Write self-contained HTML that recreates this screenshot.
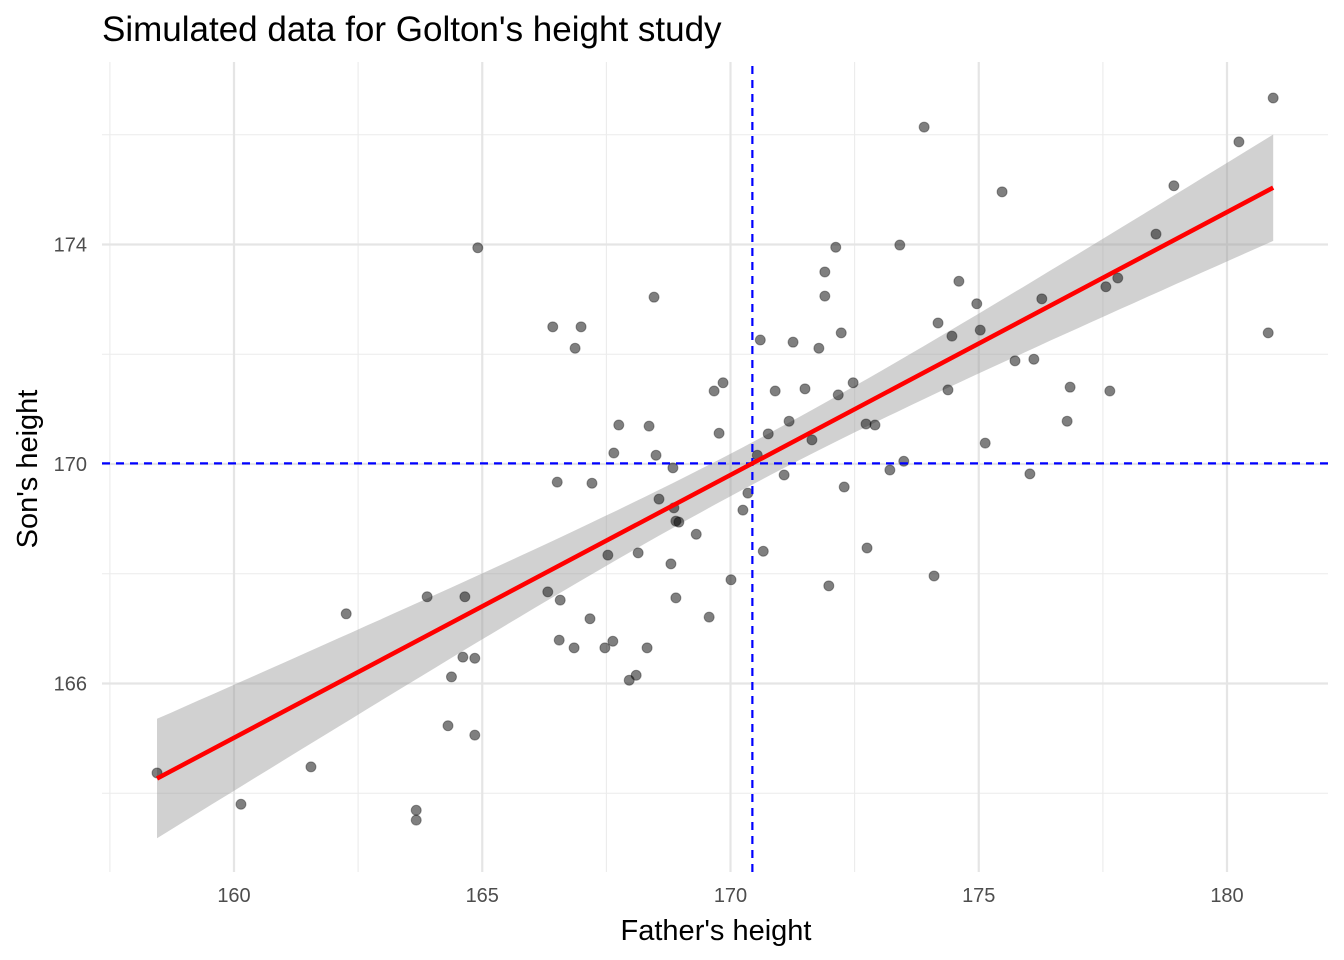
<!DOCTYPE html>
<html><head><meta charset="utf-8">
<style>
html,body{margin:0;padding:0;background:#fff;}
svg{display:block;font-family:"Liberation Sans",Arial,sans-serif;}
</style></head>
<body>
<svg id="chart" width="1344" height="960" viewBox="0 0 1344 960">
<text x="102" y="41" font-size="35" fill="#000">Simulated data for Golton's height study</text>
<g id="grid"></g>
<g id="band"></g>
<g id="points"></g>
<g id="guides"></g>
<g id="fit"></g>
<g id="ticks"></g>
<text x="716" y="940" font-size="29" text-anchor="middle" fill="#000">Father's height</text>
<text transform="translate(37,469) rotate(-90)" font-size="29" text-anchor="middle" fill="#000">Son's height</text>
</svg>
<script>
const fatherHeights=[158.45,160.14,161.55,162.26,163.67,163.67,163.89,164.31,164.38,164.61,164.65,164.85,164.85,164.91,166.32,166.42,166.51,166.57,166.55,166.85,166.87,166.99,167.21,167.17,167.47,167.53,167.63,167.65,167.75,167.96,168.10,168.14,168.32,168.36,168.46,168.50,168.56,168.80,168.84,168.86,168.90,168.90,168.96,169.31,169.57,169.67,169.77,169.85,170.01,170.25,170.35,170.54,170.60,170.66,170.76,170.90,171.08,171.18,171.26,171.64,171.50,171.78,171.90,171.90,171.98,172.12,172.17,172.23,172.29,172.47,172.73,172.75,172.91,173.21,173.41,173.49,173.90,174.10,174.18,174.38,174.46,174.60,174.96,175.03,175.13,175.47,175.73,176.03,176.11,176.27,176.78,176.84,177.56,177.64,177.80,178.57,178.93,180.24,180.83,180.93];
const sonHeights=[164.37,163.80,164.48,167.27,163.69,163.51,167.58,165.23,166.12,166.48,167.58,166.46,165.06,173.94,167.67,172.50,169.67,167.52,166.79,166.65,172.11,172.50,169.65,167.18,166.65,168.34,166.77,170.20,170.71,166.06,166.15,168.38,166.65,170.69,173.04,170.16,169.36,168.18,169.93,169.20,167.56,168.96,168.94,168.72,167.21,171.33,170.56,171.48,167.89,169.16,169.47,170.16,172.26,168.41,170.55,171.33,169.80,170.78,172.22,170.44,171.37,172.11,173.06,173.50,167.78,173.95,171.26,172.39,169.58,171.48,170.73,168.47,170.71,169.89,173.99,170.05,176.14,167.96,172.57,171.35,172.33,173.33,172.92,172.44,170.38,174.96,171.88,169.82,171.91,173.01,170.78,171.40,173.23,171.33,173.39,174.19,175.07,175.87,172.39,176.67];
const xTicks=[160,165,170,175,180];
const yTicks=[166,170,174];
const xMinor=[157.5,162.5,167.5,172.5,177.5];
const yMinor=[164,168,172,176];

const NS="http://www.w3.org/2000/svg";
const L=102,R=1328,T=62,B=872;
function sx(v){return 234+(v-160)*49.65;}
function sy(v){return 464-(v-170)*54.875;}
function mk(tag,attrs,parent){const e=document.createElementNS(NS,tag);for(const k in attrs)e.setAttribute(k,attrs[k]);parent.appendChild(e);return e;}

const grid=document.getElementById('grid');
xMinor.forEach(v=>{const e=mk('line',{x1:sx(v),x2:sx(v),y1:T,y2:B,stroke:'#ebebeb','stroke-width':1.1},grid);

});
yMinor.forEach(v=>{const e=mk('line',{x1:L,x2:R,y1:sy(v),y2:sy(v),stroke:'#ebebeb','stroke-width':1.1},grid);

});
xTicks.forEach(v=>{const e=mk('line',{x1:sx(v),x2:sx(v),y1:T,y2:B,stroke:'#e5e5e5','stroke-width':2.2},grid);

});
yTicks.forEach(v=>{const e=mk('line',{x1:L,x2:R,y1:sy(v),y2:sy(v),stroke:'#e5e5e5','stroke-width':2.2},grid);

});

const ticks=document.getElementById('ticks');
xTicks.forEach(v=>{const t=mk('text',{x:sx(v),y:902,'font-size':20,'text-anchor':'middle',fill:'#4d4d4d'},ticks);t.textContent=v;

});
yTicks.forEach(v=>{const t=mk('text',{x:87,y:sy(v)+7,'font-size':20,'text-anchor':'end',fill:'#4d4d4d'},ticks);t.textContent=v;

});

const n=fatherHeights.length;
const mx=fatherHeights.reduce((a,b)=>a+b,0)/n, my=sonHeights.reduce((a,b)=>a+b,0)/n;
let sxx=0,sxy=0;for(let i=0;i<n;i++){sxx+=(fatherHeights[i]-mx)**2;sxy+=(fatherHeights[i]-mx)*(sonHeights[i]-my);}
const b1=sxy/sxx,b0=my-b1*mx;
let sse=0;for(let i=0;i<n;i++){sse+=(sonHeights[i]-b0-b1*fatherHeights[i])**2;}
const s=Math.sqrt(sse/(n-2)),tq=1.984;
const xmin=Math.min(...fatherHeights),xmax=Math.max(...fatherHeights);
const up=[],lo=[];
for(let k=0;k<=80;k++){const x=xmin+(xmax-xmin)*k/80;const yh=b0+b1*x;const se=s*Math.sqrt(1/n+(x-mx)**2/sxx);
up.push(sx(x).toFixed(1)+','+sy(yh+tq*se).toFixed(1));lo.unshift(sx(x).toFixed(1)+','+sy(yh-tq*se).toFixed(1));}
const band=mk('polygon',{points:up.concat(lo).join(' '),fill:'#999999','fill-opacity':0.45},document.getElementById('band'));



const pts=document.getElementById('points');
for(let i=0;i<n;i++){const c=mk('circle',{cx:sx(fatherHeights[i]),cy:sy(sonHeights[i]),r:5,fill:'#000','fill-opacity':0.5,stroke:'#000','stroke-opacity':0.35,'stroke-width':1},pts);

}

const guides=document.getElementById('guides');
const vl=mk('line',{x1:sx(mx),x2:sx(mx),y1:T+4,y2:B,stroke:'#0000ff','stroke-width':2.2,'stroke-dasharray':'8,6'},guides);


const hl=mk('line',{x1:L,x2:R,y1:sy(my),y2:sy(my),stroke:'#0000ff','stroke-width':2.2,'stroke-dasharray':'8,6'},guides);



const fl=mk('line',{x1:sx(xmin),y1:sy(b0+b1*xmin),x2:sx(xmax),y2:sy(b0+b1*xmax),stroke:'#ff0000','stroke-width':4.5},document.getElementById('fit'));


</script>
</body></html>
